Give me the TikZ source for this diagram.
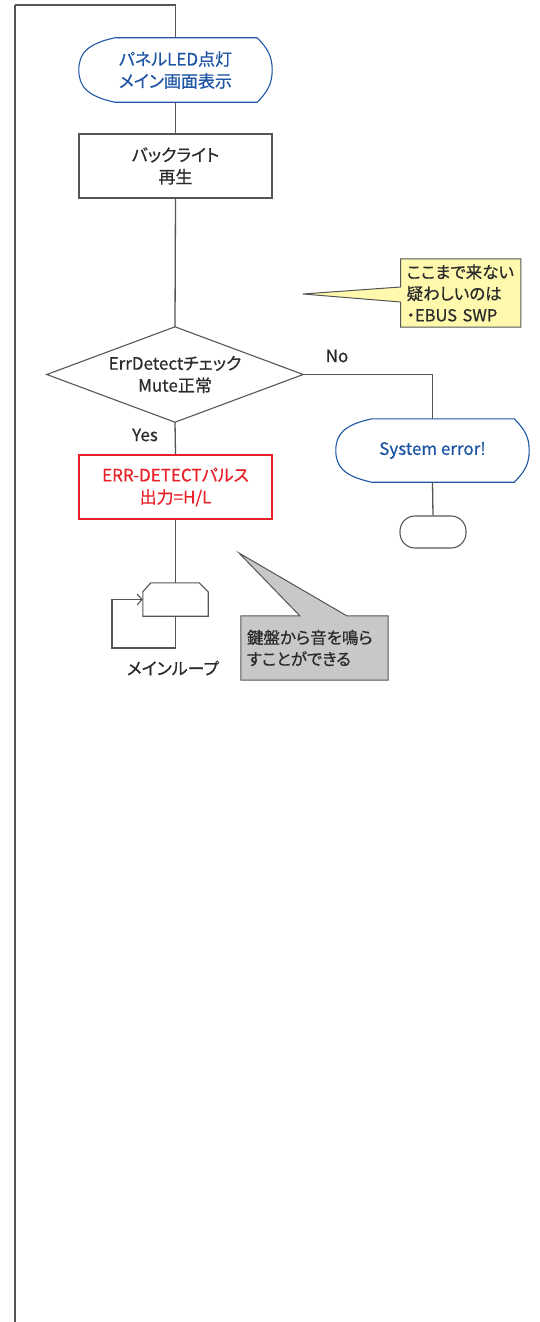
\documentclass[tikz,border=0pt]{standalone}
\usepackage{fontspec}
\setmainfont{Noto Sans CJK JP}[RawFeature=+palt, FakeBold=0.6]
\usetikzlibrary{calc,arrows.meta,backgrounds}
\definecolor{linegray}{HTML}{555555}
\definecolor{txtdark}{HTML}{2A2A2A}
\definecolor{fcblue}{HTML}{1E55A5}
\definecolor{fcred}{HTML}{E8202A}
\definecolor{noteyellow}{HTML}{FFF9AE}
\definecolor{notegray}{HTML}{C8C8C8}
\tikzset{
  conn/.style={draw=linegray, line width=1.3pt},
  shapeline/.style={draw=linegray, line width=1.1pt},
  bluebox/.style={draw=fcblue, line width=1.1pt},
  txt/.style={font=\fontsize{17}{22}\selectfont, align=center, text=txtdark, inner sep=0pt},
  bluetxt/.style={txt, text=fcblue},
  redtxt/.style={txt, text=fcred},
  notetxt/.style={font=\fontsize{16.5}{21.5}\selectfont, align=left, text=txtdark, inner sep=0pt},
}
\begin{document}
\begin{tikzpicture}[x=1pt, y=-1pt]
\useasboundingbox (0,0) rectangle (539,1322);

% nodes
\node[bluetxt, minimum width=193, minimum height=64] (disp1) at (175.5,70) {パネルLED点灯\\メイン画面表示};
\node[txt, draw=linegray, line width=1.1pt, minimum width=193, minimum height=64] (proc1) at (175.5,166) {バックライト\\再生};
\node[txt, minimum width=256, minimum height=95] (dec) at (175,374.5) {ErrDetectチェック\\Mute正常};
\node[redtxt, draw=fcred, line width=1.1pt, minimum width=193, minimum height=64] (proc2) at (175.5,487) {ERR-DETECTパルス\\出力=H/L};
\node[bluetxt, minimum width=193, minimum height=63] (disp2) at (432.5,450.5) {System error!};
\node[draw=linegray, line width=1.1pt, rounded corners=15pt, minimum width=66, minimum height=32, inner sep=0pt] (term) at (433,532) {};
\node[minimum width=65, minimum height=33, inner sep=0pt] (loop) at (175.5,599.5) {};
\node[txt] (looplbl) at (173,668) {メインループ};
\node[txt] (yes) at (145,435) {Yes};
\node[txt] (no) at (337,356) {No};

% callouts
\node[notetxt, minimum width=120, minimum height=68, text width=108] (note1) at (460.7,293) {ここまで来ない\\疑わしいのは\\・EBUS SWP};
\node[notetxt, minimum width=147, minimum height=64, text width=135] (note2) at (314.5,648) {鍵盤から音を鳴ら\\すことができる};
\coordinate (tip1) at (303,294);
\coordinate (tip2) at (239,553);

\begin{scope}[on background layer]
  \draw[shapeline, line width=1pt, fill=noteyellow] (note1.north west) -- (note1.north east) -- (note1.south east) -- (note1.south west)
    -- ($(note1.west)+(0,9)$) -- (tip1) -- ($(note1.west)+(0,-6)$) -- cycle;
  \draw[shapeline, line width=1pt, fill=notegray] (note2.north west) -- ($(note2.north west)+(59,0)$) -- (tip2)
    -- ($(note2.north west)+(106,0)$) -- (note2.north east) -- (note2.south east) -- (note2.south west) -- cycle;
  % display shapes
  \foreach \n in {disp1,disp2}{
    \draw[bluebox, fill=white]
      ($(\n.north west)+(36,0)$) -- ($(\n.north east)+(-15,0)$)
      .. controls ($(\n.north east)+(-5,10)$) and ($(\n.east)+(0,-14)$) .. (\n.east)
      .. controls ($(\n.east)+(0,14)$) and ($(\n.south east)+(-5,-10)$) .. ($(\n.south east)+(-15,0)$)
      -- ($(\n.south west)+(36,0)$)
      .. controls ($(\n.south west)+(8,-6)$) and ($(\n.west)+(0,16)$) .. (\n.west)
      .. controls ($(\n.west)+(0,-16)$) and ($(\n.north west)+(8,6)$) .. ($(\n.north west)+(36,0)$);
  }
\end{scope}
% diamond
\draw[shapeline] (dec.north) -- (dec.east) -- (dec.south) -- (dec.west) -- cycle;
% loop limit
\draw[shapeline] ($(loop.north west)+(0,9)$) -- ($(loop.north west)+(8,0)$) -- ($(loop.north east)+(-9,0)$)
  -- ($(loop.north east)+(0,9)$) -- (loop.south east) -- (loop.south west) -- cycle;

% connectors
\coordinate (tr) at (175.5,5);
\coordinate (tl) at (15,5);
\coordinate (bl) at (15,1322);
\draw[conn] (disp1.north) -- (tr) -- (tl);
\draw[conn, line width=1.8pt] (tl) -- (bl);
\draw[conn] (disp1.south) -- (proc1.north);
\draw[conn] (proc1.south) -- (dec.north);
\draw[conn] (dec.south) -- (proc2.north);
\draw[conn] (proc2.south) -- (loop.north);
\draw[conn] (dec.east) -| (disp2.north);
\draw[conn] (disp2.south) -- (term.north);
\coordinate (lb) at (112,648);
\draw[conn, line width=1.1pt, -{Straight Barb[length=5pt,width=11pt]}] (loop.south) |- (lb) |- (loop.west);
\end{tikzpicture}
\end{document}
